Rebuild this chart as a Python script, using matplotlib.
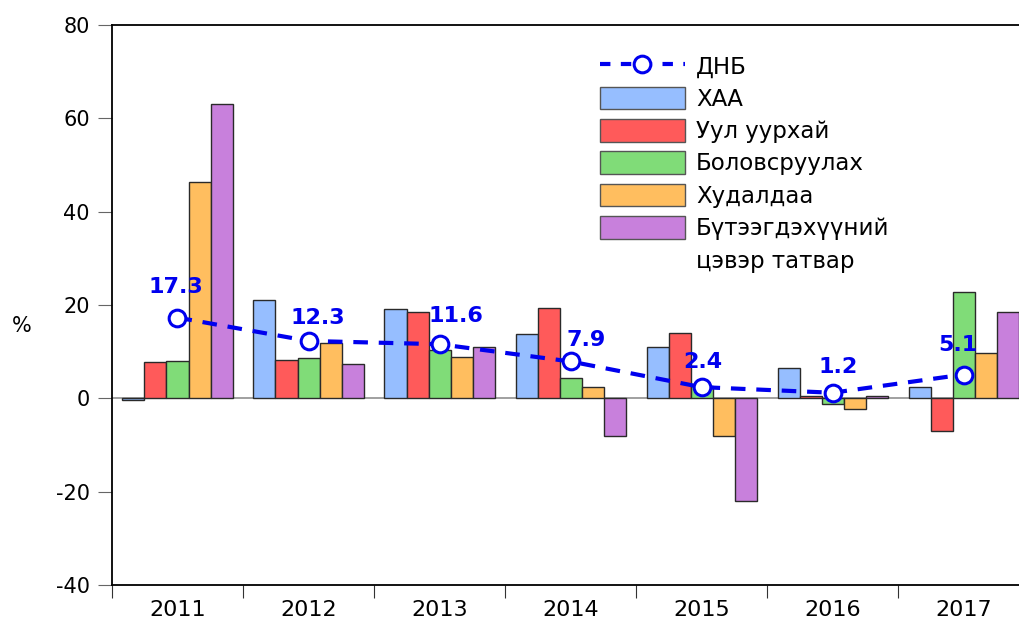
import matplotlib
matplotlib.use("Agg")
import matplotlib.pyplot as plt
import numpy as np
from matplotlib.patches import Patch
from matplotlib.lines import Line2D

plt.rcParams['font.family'] = ['DejaVu Sans']

years = ["2011", "2012", "2013", "2014", "2015", "2016", "2017"]
gdp = [17.3, 12.3, 11.6, 7.9, 2.4, 1.2, 5.1]
haa = [-0.3, 21.1, 19.2, 13.7, 10.9, 6.4, 2.4]
mining = [7.7, 8.3, 18.6, 19.4, 14.1, 0.4, -6.9]
manuf = [7.9, 8.7, 10.3, 4.3, 2.7, -1.2, 22.8]
trade = [46.4, 11.9, 8.9, 2.4, -8.0, -2.2, 9.8]
tax = [63.0, 7.3, 11.1, -8.0, -21.9, 0.6, 18.6]

series_names = ["ХАА", "Уул уурхай", "Боловсруулах", "Худалдаа", "Бүтээгдэхүүний"]
tax_name_line2 = "цэвэр татвар"
gdp_name = "ДНБ"
colors = ["#96BEFF", "#FF5A5A", "#80DC78", "#FFBE5F", "#C880DC"]
blue = "#0000EE"

# label offsets in points (style only)
label_offsets = [(-1, 15), (7, 9), (12, 13), (11, 8), (1, 11), (4, 11), (-4, 14)]

fig = plt.figure(figsize=(10.19, 6.24), dpi=100)
ax = fig.add_axes([0.1099, 0.0625, 0.9, 0.8974])

x = np.arange(len(years))
bw = 0.168
series = [haa, mining, manuf, trade, tax]
for i, (vals, c) in enumerate(zip(series, colors)):
    ax.bar(x + (i - 2) * bw, vals, width=bw, color=c, edgecolor="#2a2a2a",
           linewidth=1.0, zorder=3)

ax.axhline(0, color="#999999", linewidth=1.3, zorder=2)

dash = (0, (3.5, 2.6))
ax.plot(x, gdp, color=blue, linestyle=dash, linewidth=3,
        marker="o", markersize=12, markerfacecolor="white",
        markeredgecolor=blue, markeredgewidth=2.2, zorder=5)
for xi, v, off in zip(x, gdp, label_offsets):
    ax.annotate(f"{v}", (xi, v), xytext=off, textcoords="offset points",
                ha="center", va="bottom", color=blue, fontsize=16,
                fontweight="bold", zorder=6)

ax.set_xlim(-0.5, 6.5)
ax.set_ylim(-40, 80)
ax.set_yticks([-40, -20, 0, 20, 40, 60, 80])
ax.set_yticklabels(["-40", "-20", "0", "20", "40", "60", "80"])
ax.tick_params(axis="y", direction="out", length=10, color="#666666",
               labelsize=15, pad=6)
ax.set_xticks(np.arange(-0.5, 7.0, 1.0))
ax.set_xticklabels([])
ax.tick_params(axis="x", which="major", direction="out", length=9,
               color="#333333")
ax.set_xticks(x, minor=True)
ax.set_xticklabels(years, minor=True)
ax.tick_params(axis="x", which="minor", length=0, labelsize=16, pad=11)

for s in ["left", "bottom", "top"]:
    ax.spines[s].set_color("black")
    ax.spines[s].set_linewidth(1.3)
ax.spines["right"].set_visible(False)

ax.set_ylabel("%", rotation=0, fontsize=15)
ax.yaxis.set_label_coords(-0.098, 0.445)

handles = [Line2D([0], [0], color=blue, linestyle=(0, (2.5, 2.5)), linewidth=3,
                  marker="o", markersize=12, markerfacecolor="white",
                  markeredgecolor=blue, markeredgewidth=2.2)]
handles += [Patch(facecolor=c, edgecolor="#555555") for c in colors]
handles += [Patch(facecolor="none", edgecolor="none")]
labels = [gdp_name] + series_names + [tax_name_line2]
leg = ax.legend(handles, labels, loc="upper left", bbox_to_anchor=(0.532, 0.948),
                frameon=False, fontsize=16.5, handlelength=3.7, handleheight=1.15,
                labelspacing=0.36, handletextpad=0.5, borderaxespad=0,
                borderpad=0)

fig.savefig("out.png", dpi=100)
